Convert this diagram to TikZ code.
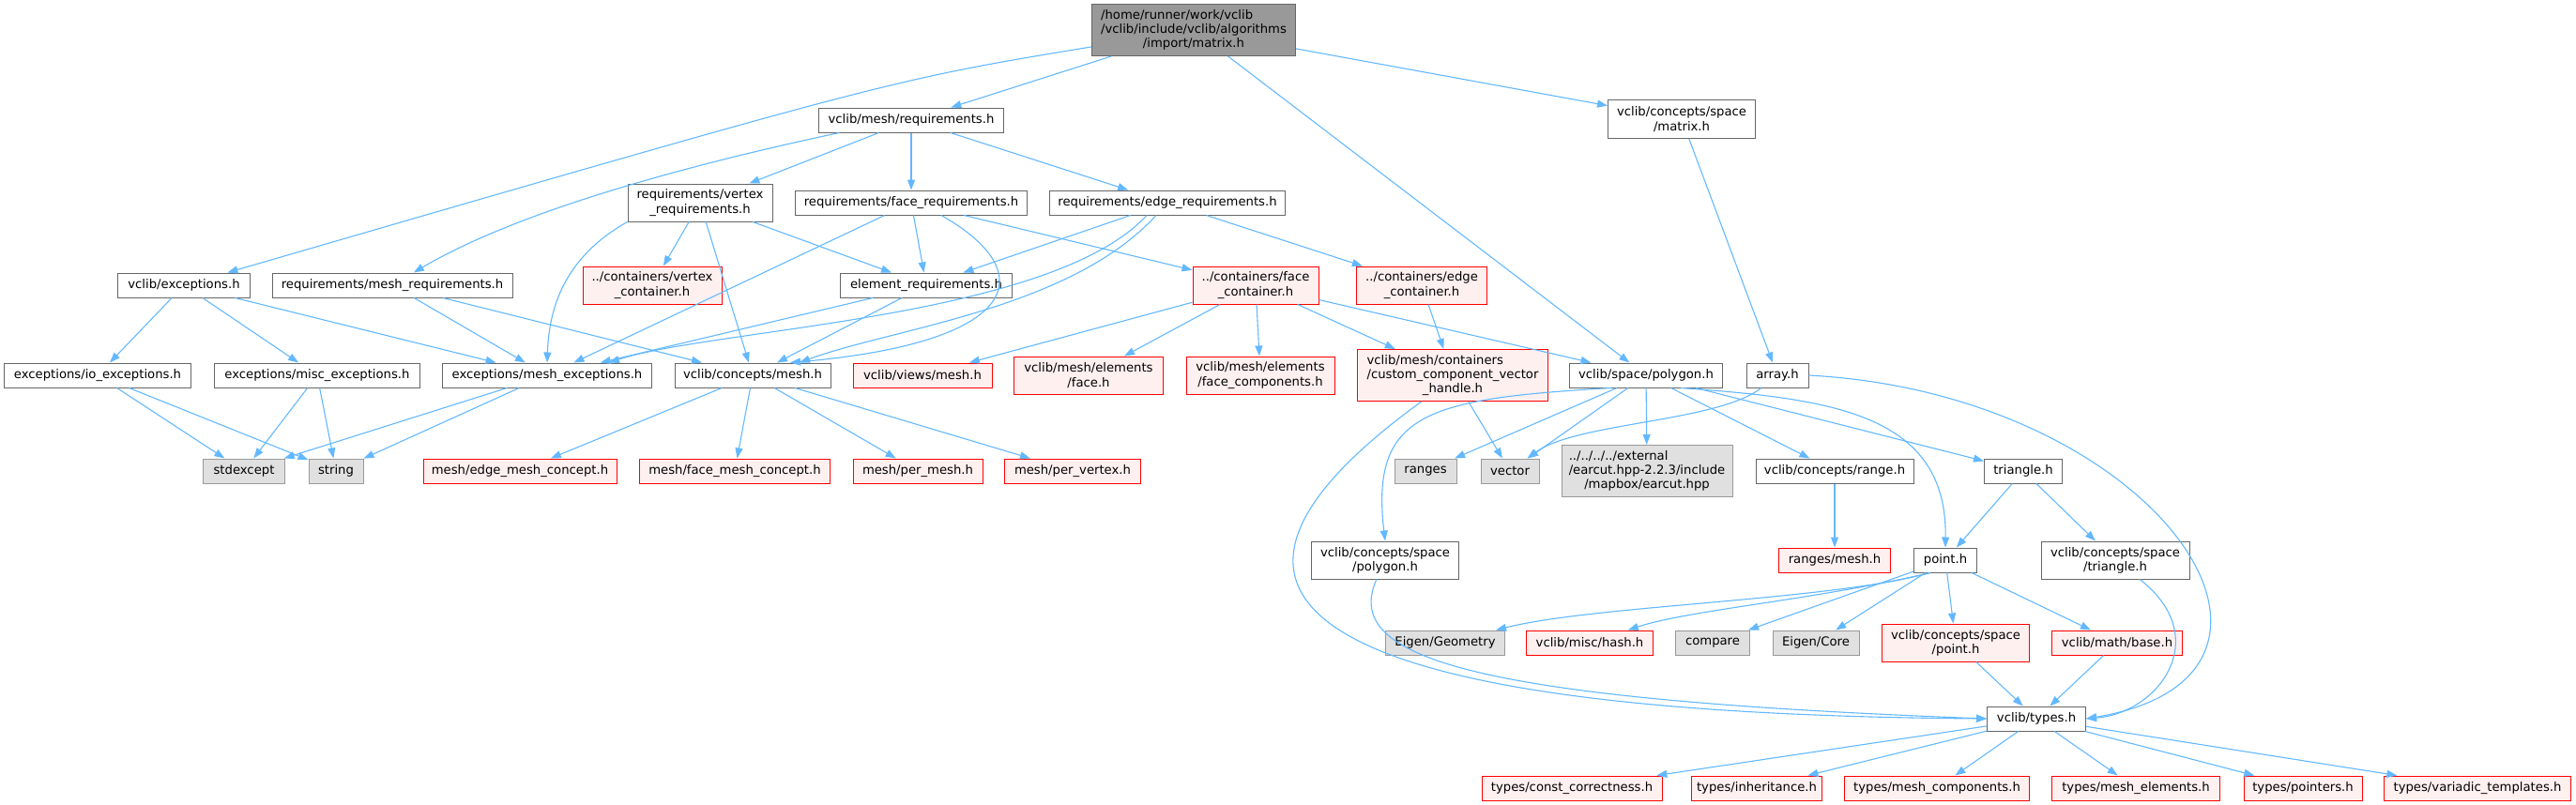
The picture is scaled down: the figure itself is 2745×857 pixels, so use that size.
\documentclass[tikz,border=0pt]{standalone}
\usepackage{fontspec}
\setmainfont{DejaVu Sans}
\usetikzlibrary{arrows.meta}

\definecolor{edgeblue}{HTML}{63B8FF}
\definecolor{docline}{HTML}{666666}
\definecolor{missline}{HTML}{FF0000}
\definecolor{missfill}{HTML}{FFF0F0}
\definecolor{sysline}{HTML}{999999}
\definecolor{sysfill}{HTML}{E0E0E0}
\definecolor{rootfill}{HTML}{999999}

\newlength\firstwd
\newcommand{\toplinel}[2]{\settowidth{\firstwd}{#2}\makebox[\firstwd][l]{#1}\\#2}

\begin{document}
\begin{tikzpicture}[x=0.5pt, y=-0.5pt, font=\fontsize{6.6}{7.6}\selectfont,
    hfile/.style={draw, rectangle, line width=0.5pt, inner sep=0pt, minimum height=13pt, align=center},
    doc/.style={hfile, draw=docline, fill=white},
    miss/.style={hfile, draw=missline, fill=missfill},
    sys/.style={hfile, draw=sysline, fill=sysfill},
    rootnode/.style={hfile, draw=docline, fill=rootfill},
    dep/.style={-{Triangle[length=5.5pt,width=4pt]}, draw=edgeblue, line width=0.55pt}]
        \useasboundingbox (0,0) rectangle (2745,857);

        % top levels
        \node[rootnode, minimum width=108.5pt, minimum height=27.5pt] (root) at (1272,32) {\toplinel{/home/runner/work/vclib}{/vclib/include/vclib/algorithms}\\/import/matrix.h};
        \node[doc, minimum width=98.5pt] (mreq) at (971,128) {vclib/mesh/requirements.h};
        \node[doc, minimum width=78.5pt, minimum height=20.5pt] (cmat) at (1792,127) {vclib/concepts/space\\/matrix.h};
        \node[doc, minimum width=77pt, minimum height=20pt] (vreq) at (746,216) {requirements/vertex\\\_requirements.h};
        \node[doc, minimum width=123.5pt] (freq) at (971,216) {requirements/face\_requirements.h};
        \node[doc, minimum width=125.5pt] (ereq) at (1244,216) {requirements/edge\_requirements.h};

        \node[doc, minimum width=70.5pt] (vexc) at (196,304) {vclib/exceptions.h};
        \node[doc, minimum width=128pt] (meshreq) at (418,304) {requirements/mesh\_requirements.h};
        \node[miss, minimum width=74pt, minimum height=20pt] (vcont) at (695,304) {../containers/vertex\\\_container.h};
        \node[doc, minimum width=91.5pt] (elreq) at (987,304) {element\_requirements.h};
        \node[miss, minimum width=67pt, minimum height=20pt] (fcont) at (1338,304) {../containers/face\\\_container.h};
        \node[miss, minimum width=69.5pt, minimum height=20pt] (econt) at (1515,304) {../containers/edge\\\_container.h};

        % middle row
        \node[doc, minimum width=99.5pt] (ioexc) at (104,400) {exceptions/io\_exceptions.h};
        \node[doc, minimum width=109.5pt] (miscexc) at (338,400) {exceptions/misc\_exceptions.h};
        \node[doc, minimum width=111.5pt] (meshexc) at (583,400) {exceptions/mesh\_exceptions.h};
        \node[doc, minimum width=83pt] (cmesh) at (802,400) {vclib/concepts/mesh.h};
        \node[miss, minimum width=74pt] (vmesh) at (983,400) {vclib/views/mesh.h};
        \node[miss, minimum width=79.5pt, minimum height=20pt] (eface) at (1160,400) {vclib/mesh/elements\\/face.h};
        \node[miss, minimum width=79pt, minimum height=20pt] (efcomp) at (1343,400) {vclib/mesh/elements\\/face\_components.h};
        \node[miss, minimum width=101.5pt, minimum height=27.5pt] (ccvh) at (1548,400) {\toplinel{vclib/mesh/containers}{/custom\_component\_vector}\\\_handle.h};
        \node[doc, minimum width=81.5pt] (spoly) at (1754,400) {vclib/space/polygon.h};
        \node[doc, minimum width=33pt] (arr) at (1894,400) {array.h};

        \node[sys, minimum width=43.5pt] (stdexc) at (260,502) {stdexcept};
        \node[sys, minimum width=29pt] (str) at (358,502) {string};
        \node[miss, minimum width=103pt] (emc) at (554,502) {mesh/edge\_mesh\_concept.h};
        \node[miss, minimum width=101.5pt] (fmc) at (783,502) {mesh/face\_mesh\_concept.h};
        \node[miss, minimum width=69pt] (pmesh) at (978,502) {mesh/per\_mesh.h};
        \node[miss, minimum width=72.5pt] (pvert) at (1143,502) {mesh/per\_vertex.h};
        \node[sys, minimum width=33pt] (rng) at (1519,502) {ranges};
        \node[sys, minimum width=31pt] (vec) at (1609,502) {vector};
        \node[sys, minimum width=91pt, minimum height=27.5pt] (earcut) at (1755,502) {\toplinel{../../../../external}{/earcut.hpp-2.2.3/include}\\/mapbox/earcut.hpp};
        \node[doc, minimum width=84pt] (crange) at (1955,502) {vclib/concepts/range.h};
        \node[doc, minimum width=41.5pt] (tri) at (2156,502) {triangle.h};

        % lower rows
        \node[doc, minimum width=78.5pt, minimum height=20pt] (cspoly) at (1476,597) {vclib/concepts/space\\/polygon.h};
        \node[miss, minimum width=59.5pt] (rmesh) at (1955,597) {ranges/mesh.h};
        \node[doc, minimum width=33.5pt] (pt) at (2073,597) {point.h};
        \node[doc, minimum width=79pt, minimum height=20pt] (cstri) at (2254,597) {vclib/concepts/space\\/triangle.h};

        \node[sys, minimum width=63.5pt] (egeo) at (1540,685) {Eigen/Geometry};
        \node[miss, minimum width=67.5pt] (hash) at (1694,685) {vclib/misc/hash.h};
        \node[sys, minimum width=39.5pt] (cmp) at (1825,685) {compare};
        \node[sys, minimum width=46pt] (ecore) at (1935,685) {Eigen/Core};
        \node[miss, minimum width=78.5pt, minimum height=20pt] (cspt) at (2084,685) {vclib/concepts/space\\/point.h};
        \node[miss, minimum width=69.5pt] (mbase) at (2256,685) {vclib/math/base.h};

        \node[doc, minimum width=52.5pt] (types) at (2170,766) {vclib/types.h};

        \node[miss, minimum width=96pt] (tcc) at (1675,840) {types/const\_correctness.h};
        \node[miss, minimum width=69.5pt] (tinh) at (1872,840) {types/inheritance.h};
        \node[miss, minimum width=98.5pt] (tmc) at (2064,840) {types/mesh\_components.h};
        \node[miss, minimum width=89.5pt] (tme) at (2276,840) {types/mesh\_elements.h};
        \node[miss, minimum width=63pt] (tptr) at (2454,840) {types/pointers.h};
        \node[miss, minimum width=99.5pt] (tvar) at (2640,840) {types/variadic\_templates.h};

        % includes of the root file
        \draw[dep] (root) .. controls (950,85) .. (vexc);
        \draw[dep] (root) -- (mreq);
        \draw[dep] (root) -- (spoly);
        \draw[dep] (root) -- (cmat);

        % requirements
        \draw[dep] (mreq.190) .. controls (760,170) and (560,220) .. (meshreq);
        \draw[dep] (mreq) -- (vreq);
        \draw[dep] (mreq) -- (freq);
        \draw[dep] (mreq) -- (ereq);
        \draw[dep] (cmat) -- (arr);

        \draw[dep] (vreq.south west) .. controls (600,275) and (585,330) .. (meshexc.north);
        \draw[dep] (vreq) -- (vcont);
        \draw[dep] (vreq) -- (cmesh);
        \draw[dep] (vreq) -- (elreq);

        \draw[dep] (freq) -- (meshexc);
        \draw[dep] (freq) -- (elreq);
        \draw[dep] (freq) -- (fcont);
        \draw[dep] ([xshift=16pt]freq.south) .. controls (1110,290) and (1090,365) .. ([xshift=20pt]cmesh.north);

        \draw[dep] (ereq) -- (elreq);
        \draw[dep] (ereq) -- (econt);
        \draw[dep] ([xshift=-11pt]ereq.south) .. controls (1120,340) and (760,350) .. ([xshift=33pt]meshexc.north);
        \draw[dep] ([xshift=-6pt]ereq.south) .. controls (1140,330) and (950,350) .. ([xshift=25pt]cmesh.north);

        % exceptions
        \draw[dep] (vexc) -- (ioexc);
        \draw[dep] (vexc) -- (miscexc);
        \draw[dep] (vexc) -- (meshexc);
        \draw[dep] (meshreq) -- (meshexc);
        \draw[dep] (meshreq) -- (cmesh);
        \draw[dep] (elreq) -- (meshexc);
        \draw[dep] (elreq) -- (cmesh);
        \draw[dep] (ioexc) -- (stdexc);
        \draw[dep] (ioexc) -- (str);
        \draw[dep] (miscexc) -- (stdexc);
        \draw[dep] (miscexc) -- (str);
        \draw[dep] (meshexc) -- (stdexc);
        \draw[dep] (meshexc) -- (str);

        % concepts and containers
        \draw[dep] (cmesh) -- (emc);
        \draw[dep] (cmesh) -- (fmc);
        \draw[dep] (cmesh) -- (pmesh);
        \draw[dep] (cmesh) -- (pvert);
        \draw[dep] (fcont) -- (vmesh);
        \draw[dep] (fcont) -- (eface);
        \draw[dep] (fcont) -- (efcomp);
        \draw[dep] (fcont) -- (ccvh);
        \draw[dep] (fcont) -- (spoly);
        \draw[dep] (econt) -- (ccvh);
        \draw[dep] (ccvh) -- (vec);
        \draw[dep] (ccvh.220) .. controls (1250,620) and (1330,760) .. (types.west);

        % space
        \draw[dep] (spoly) -- (rng);
        \draw[dep] (spoly) -- (vec);
        \draw[dep] (spoly) -- (earcut);
        \draw[dep] (spoly) -- (crange);
        \draw[dep] (spoly) -- (tri);
        \draw[dep] (spoly.200) .. controls (1520,425) and (1460,440) .. (cspoly.north);
        \draw[dep] (spoly.340) .. controls (1950,425) and (2075,440) .. (pt.north);
        \draw[dep] (arr) .. controls (1830,450) and (1680,450) .. (vec);
        \draw[dep] (arr.east) .. controls (2300,420) and (2500,720) .. (types.east);
        \draw[dep] (crange) -- (rmesh);
        \draw[dep] (tri) -- (pt);
        \draw[dep] (tri) -- (cstri);
        \draw[dep] (cspoly) .. controls (1430,700) and (1560,745) .. (types.west);
        \draw[dep] (cstri) .. controls (2360,680) and (2300,760) .. (types.east);

        % point
        \draw[dep] (pt.220) .. controls (1950,640) and (1700,645) .. (egeo);
        \draw[dep] (pt.220) .. controls (1930,640) and (1800,650) .. (hash);
        \draw[dep] (pt) -- (cmp);
        \draw[dep] (pt) -- (ecore);
        \draw[dep] (pt) -- (cspt);
        \draw[dep] (pt) -- (mbase);
        \draw[dep] (cspt) -- (types);
        \draw[dep] (mbase) -- (types);

        % types
        \draw[dep] (types) -- (tcc);
        \draw[dep] (types) -- (tinh);
        \draw[dep] (types) -- (tmc);
        \draw[dep] (types) -- (tme);
        \draw[dep] (types) -- (tptr);
        \draw[dep] (types) -- (tvar);
\end{tikzpicture}
\end{document}
